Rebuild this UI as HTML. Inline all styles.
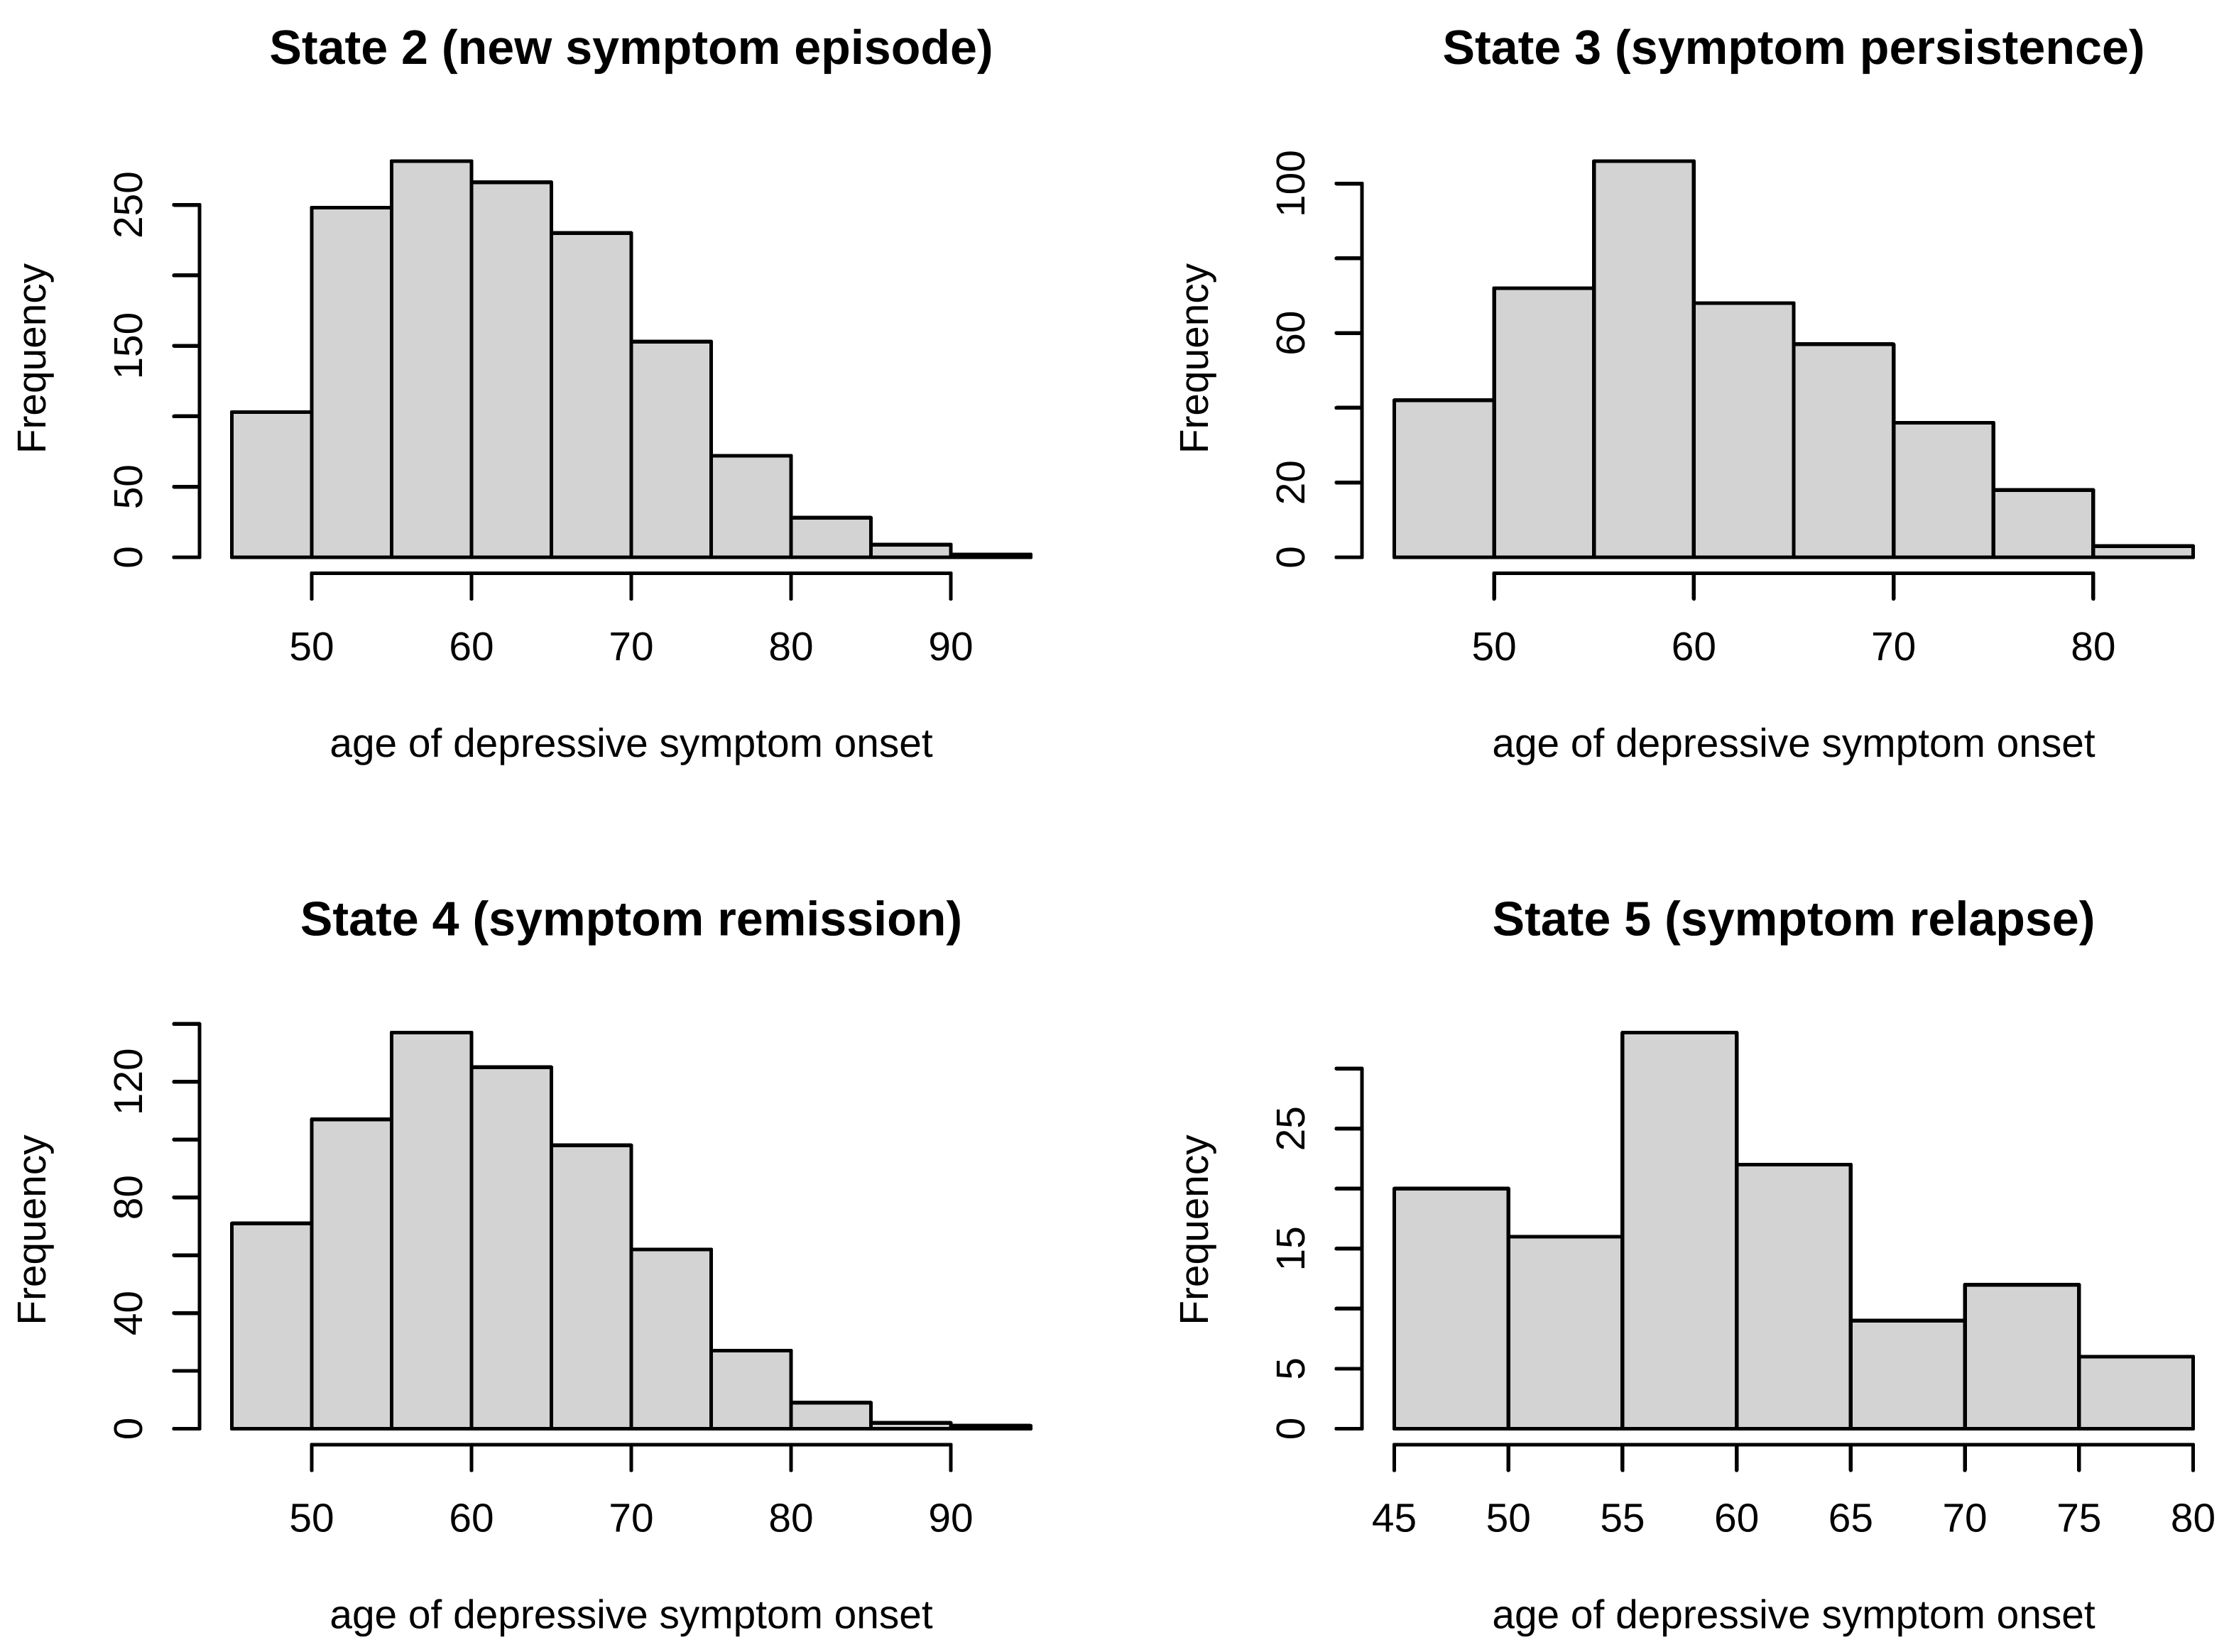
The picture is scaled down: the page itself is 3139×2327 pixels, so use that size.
<!DOCTYPE html>
<html lang="en">
<head>
<meta charset="utf-8">
<title>Age of depressive symptom onset by state</title>
<style>
  html, body { margin: 0; padding: 0; background: #fff; }
  svg { display: block; }
  text { font-family: "Liberation Sans", Arial, sans-serif; fill: #000; text-rendering: geometricPrecision; }
</style>
</head>
<body>
<svg id="chart" xmlns="http://www.w3.org/2000/svg" width="3139" height="2327" viewBox="0 0 3139 2327">
  <rect x="0" y="0" width="3139" height="2327" fill="#ffffff"/>
</svg>
<script>
// ---- data ----
const binStart = 45;
const binWidth = 5;
const xAxisTitle = "age of depressive symptom onset";
const yAxisTitle = "Frequency";

const state2Title = "State 2 (new symptom episode)";
const state2Counts = [103, 248, 281, 266, 230, 153, 72, 28, 9, 2];
const state2XTicks = [50, 60, 70, 80, 90];
const state2YTicks = [0, 50, 100, 150, 200, 250];
const state2YLabels = ["0", "50", "", "150", "", "250"];

const state3Title = "State 3 (symptom persistence)";
const state3Counts = [42, 72, 106, 68, 57, 36, 18, 3];
const state3XTicks = [50, 60, 70, 80];
const state3YTicks = [0, 20, 40, 60, 80, 100];
const state3YLabels = ["0", "20", "", "60", "", "100"];

const state4Title = "State 4 (symptom remission)";
const state4Counts = [71, 107, 137, 125, 98, 62, 27, 9, 2, 1];
const state4XTicks = [50, 60, 70, 80, 90];
const state4YTicks = [0, 20, 40, 60, 80, 100, 120, 140];
const state4YLabels = ["0", "", "40", "", "80", "", "120", ""];

const state5Title = "State 5 (symptom relapse)";
const state5Counts = [20, 16, 33, 22, 9, 12, 6];
const state5XTicks = [45, 50, 55, 60, 65, 70, 75, 80];
const state5YTicks = [0, 5, 10, 15, 20, 25, 30];
const state5YLabels = ["0", "5", "", "15", "", "25", ""];

// ---- layout and drawing ----
const svg = document.getElementById("chart");
const NS = "http://www.w3.org/2000/svg";

function make(tag, attrs, parent, content) {
  const el = document.createElementNS(NS, tag);
  for (const k in attrs) el.setAttribute(k, attrs[k]);
  if (content !== undefined) el.textContent = content;
  parent.appendChild(el);
  return el;
}

function drawPanel(key, title, counts, xTicks, yTicks, yLabels, ox, oy) {
  const plotLeft = 326.5 + ox, plotWidth = 1125;
  const baseY = 785 + oy, barMaxHeight = 558;
  const centerX = plotLeft + plotWidth / 2;
  const xMin = binStart, xMax = binStart + binWidth * counts.length;
  const yMax = Math.max.apply(null, counts);
  const xScale = v => plotLeft + (v - xMin) / (xMax - xMin) * plotWidth;
  const yScale = v => baseY - v / yMax * barMaxHeight;
  const line = { stroke: "#000", "stroke-width": 5.4, "stroke-linecap": "round", fill: "none", "shape-rendering": "crispEdges" };

  const g = make("g", {}, svg);
  
  

  const titleEl = make("text", { x: centerX, y: 90 + oy, "text-anchor": "middle", "font-size": 68.2, "font-weight": "bold" }, g, title);
  
  

  counts.forEach(function (c, i) {
    const x0 = xScale(binStart + i * binWidth), x1 = xScale(binStart + (i + 1) * binWidth);
    const bar = make("rect", { x: x0, y: yScale(c), width: x1 - x0, height: baseY - yScale(c),
      fill: "#d3d3d3", stroke: "#000", "stroke-width": 5.4, "stroke-linejoin": "round", "shape-rendering": "crispEdges" }, g);
    
    
  });

  // x axis
  const xAxisY = 807.5 + oy, tickLen = 36;
  const xLine = make("line", Object.assign({ x1: xScale(xTicks[0]), x2: xScale(xTicks[xTicks.length - 1]), y1: xAxisY, y2: xAxisY }, line), g);
  
  
  xTicks.forEach(function (t) {
    const tick = make("line", Object.assign({ x1: xScale(t), x2: xScale(t), y1: xAxisY, y2: xAxisY + tickLen }, line), g);
    
    
    const label = make("text", { x: xScale(t), y: 930 + oy, "text-anchor": "middle", "font-size": 56.8 }, g, String(t));
    
    
  });
  const xTitle = make("text", { x: centerX, y: 1066 + oy, "text-anchor": "middle", "font-size": 56.8 }, g, xAxisTitle);
  
  

  // y axis
  const yAxisX = 281 + ox;
  const yLine = make("line", Object.assign({ x1: yAxisX, x2: yAxisX, y1: yScale(yTicks[0]), y2: yScale(yTicks[yTicks.length - 1]) }, line), g);
  
  
  yTicks.forEach(function (t, i) {
    const tick = make("line", Object.assign({ x1: yAxisX - tickLen, x2: yAxisX, y1: yScale(t), y2: yScale(t) }, line), g);
    
    
    if (yLabels[i]) {
      const lx = 200 + ox, ly = yScale(t);
      const label = make("text", { x: lx, y: ly, "text-anchor": "middle", "font-size": 56.8, transform: "rotate(-90 " + lx + " " + ly + ")" }, g, yLabels[i]);
      
      
    }
  });
  const tx = 64 + ox, ty = 505 + oy;
  const yTitle = make("text", { x: tx, y: ty, "text-anchor": "middle", "font-size": 56.8, transform: "rotate(-90 " + tx + " " + ty + ")" }, g, yAxisTitle);
  
  
}

const colOffset = 1637, rowOffset = 1227.5;
drawPanel("state-2", state2Title, state2Counts, state2XTicks, state2YTicks, state2YLabels, 0, 0);
drawPanel("state-3", state3Title, state3Counts, state3XTicks, state3YTicks, state3YLabels, colOffset, 0);
drawPanel("state-4", state4Title, state4Counts, state4XTicks, state4YTicks, state4YLabels, 0, rowOffset);
drawPanel("state-5", state5Title, state5Counts, state5XTicks, state5YTicks, state5YLabels, colOffset, rowOffset);
</script>
</body>
</html>
